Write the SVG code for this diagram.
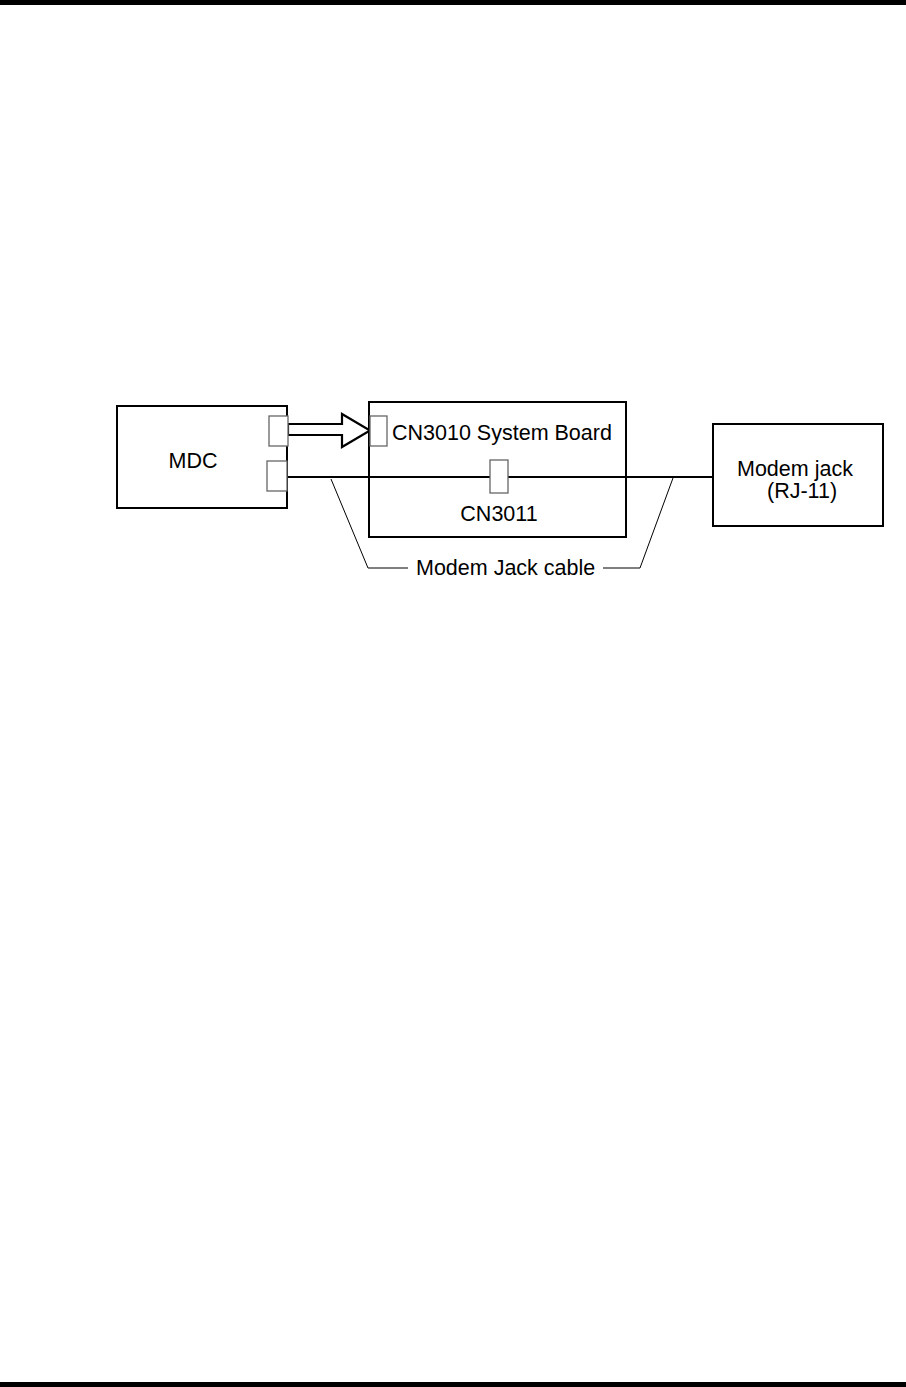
<svg xmlns="http://www.w3.org/2000/svg" width="906" height="1387" viewBox="0 0 906 1387">
<style>
.box{fill:none;stroke:#000;stroke-width:2}
.conn{fill:#fff;stroke:#666;stroke-width:1.3}
.t{font-family:"Liberation Sans",Arial,sans-serif;font-size:21.5px;fill:#000}
.lead{fill:none;stroke:#000;stroke-width:1}
.cable{fill:none;stroke:#000;stroke-width:2}
</style>
<rect x="0" y="0" width="906" height="5" fill="#000"/>
<rect x="0" y="1382" width="906" height="5" fill="#000"/>
<g id="connectors">
<line class="cable" x1="287" y1="477" x2="713" y2="477"/>
<polygon points="288,424 342,424 342,414 370,430.5 342,447 342,435 288,435" fill="#fff" stroke="#000" stroke-width="2.2"/>
<polyline class="lead" points="331,479 368,568 408,568"/>
<polyline class="lead" points="603,568 640,568 673,478"/>
</g>
<g id="mdc">
<rect class="box" x="117" y="406" width="170" height="102"/>
<rect class="conn" x="269" y="416" width="19" height="30"/>
<rect class="conn" x="267" y="461" width="20" height="30"/>
<text class="t" x="193" y="468" text-anchor="middle">MDC</text>
</g>
<g id="system-board">
<rect class="box" x="369" y="402" width="257" height="135"/>
<rect class="conn" x="370" y="416" width="17" height="30"/>
<text class="t" x="392" y="440">CN3010 System Board</text>
<rect class="conn" x="490" y="460" width="18" height="33"/>
<text class="t" x="499" y="521" text-anchor="middle">CN3011</text>
</g>
<g id="modem-jack">
<rect class="box" x="713" y="424" width="170" height="102"/>
<text class="t" x="737" y="476">Modem jack</text>
<text class="t" x="767" y="498">(RJ-11)</text>
</g>
<g id="cable-label">
<text class="t" x="416" y="575">Modem Jack cable</text>
</g>
</svg>
